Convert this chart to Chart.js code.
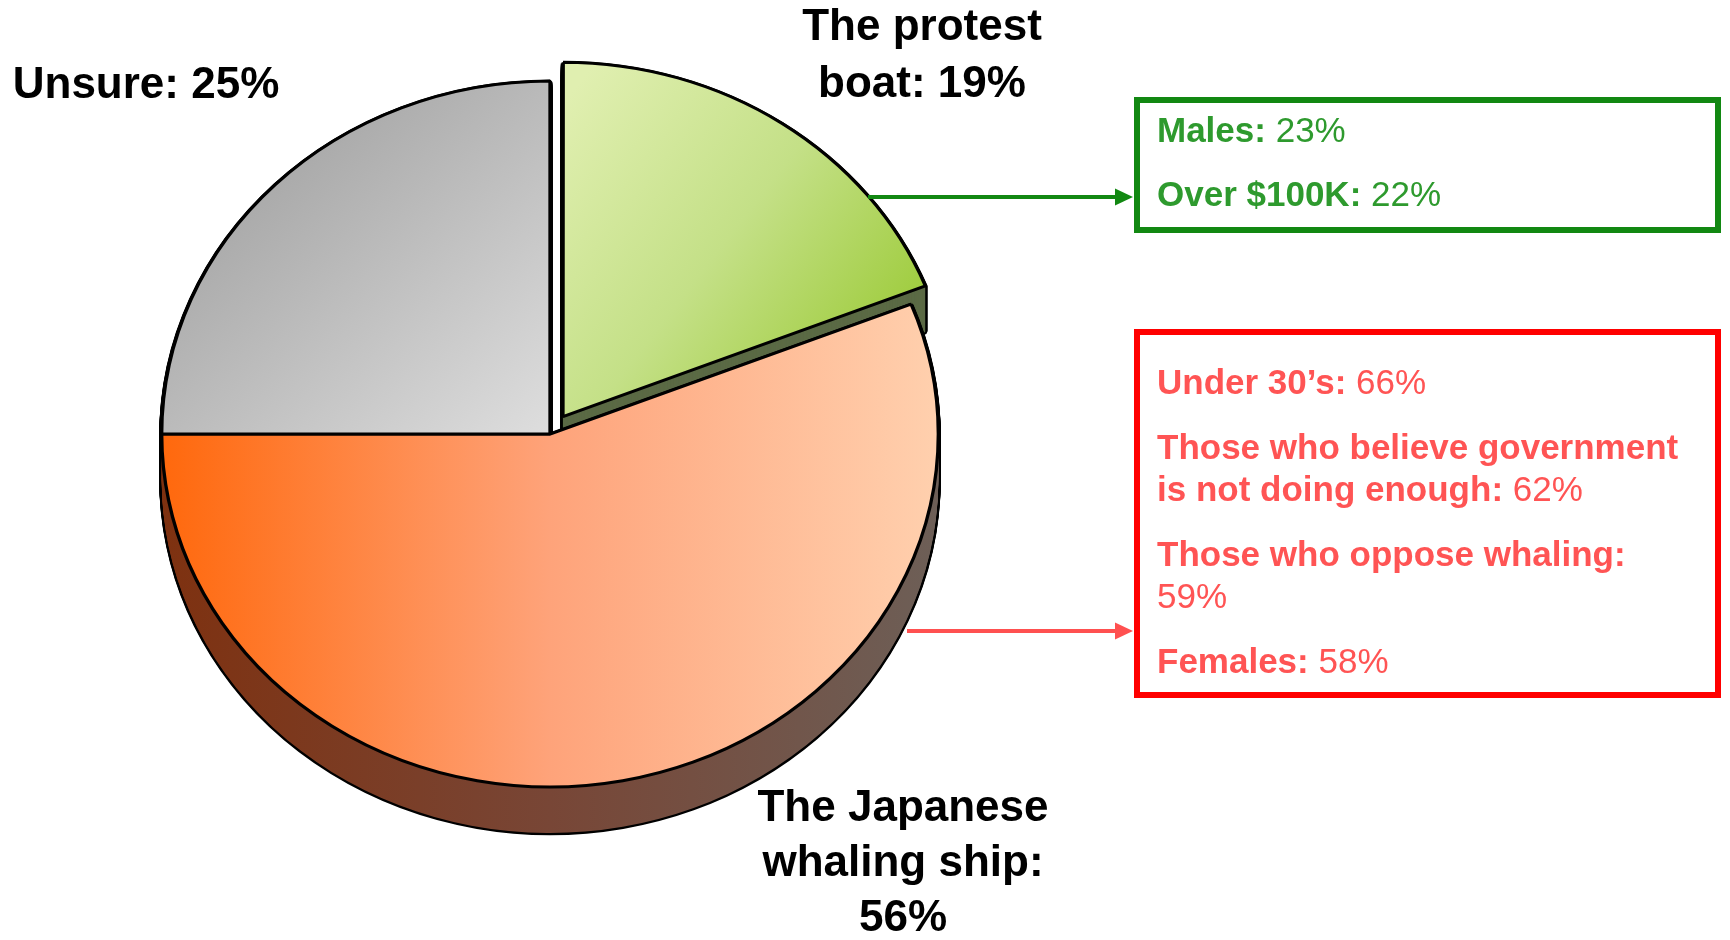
<!DOCTYPE html>
<html>
<head>
<meta charset="utf-8">
<script src="https://cdn.jsdelivr.net/npm/chart.js@4/dist/chart.umd.min.js"></script>
<style>
html,body{margin:0;padding:0;background:#fff;}
#wrap{position:relative;width:1730px;height:940px;overflow:hidden;font-family:"Liberation Sans",Arial,Helvetica,sans-serif;}
#wrap canvas{position:absolute;left:0;top:0;}
.box{position:absolute;box-sizing:border-box;border:6px solid;}
.box p{margin:0;font-size:35px;line-height:42px;font-weight:normal;}
.box p b{font-weight:bold;}
#boxGreen{left:1134px;top:97px;width:587px;height:136px;border-color:#128812;color:#2e9a2e;padding:6px 0 0 17px;}
#boxGreen p + p{margin-top:22px;}
#boxRed{left:1134px;top:329px;width:587px;height:369px;border-color:#ff0000;color:#ff5454;padding:26px 0 0 17px;}
#boxRed p{width:536px;}
#boxRed p + p{margin-top:23px;}
</style>
</head>
<body>
<div id="wrap">
  <div style="position:absolute;left:0;top:0;width:1730px;height:940px;"><canvas id="c"></canvas></div>
  <div class="box" id="boxGreen"></div>
  <div class="box" id="boxRed"></div>
</div>
<script>
// ---------------- data ----------------
const categories = ['The protest boat', 'The Japanese whaling ship', 'Unsure'];
const shares = [19, 56, 25];
const sliceLabelLines = [
  ['The protest', 'boat: {v}%'],
  ['The Japanese', 'whaling ship:', '{v}%'],
  ['Unsure: {v}%']
];
const protestGroups = ['Males:', 'Over $100K:'];
const protestValues = [23, 22];
const whalingGroups = ['Under 30\u2019s:', 'Those who believe government is not doing enough:', 'Those who oppose whaling:', 'Females:'];
const whalingValues = [66, 62, 59, 58];

// ---------------- annotation boxes ----------------
function fillBox(id, groups, values) {
  const box = document.getElementById(id);
  groups.forEach((g, i) => {
    const p = document.createElement('p');
    const b = document.createElement('b');
    b.textContent = g;
    p.appendChild(b);
    p.appendChild(document.createTextNode(' ' + values[i] + '%'));
    box.appendChild(p);
  });
}
fillBox('boxGreen', protestGroups, protestValues);
fillBox('boxRed', whalingGroups, whalingValues);

// ---------------- styling helpers ----------------
const SX = 1.1;      // horizontal stretch of the pie (ellipse)
const DEPTH = 46;    // 3D thickness
function px(chart, x) { // screen x -> pre-stretch x
  const a = chart.chartArea; const cx = (a.left + a.right) / 2;
  return cx + (x - cx) / SX;
}
function faceColor(c) {
  const chart = c.chart, ctx = chart.ctx, i = c.dataIndex;
  if (!chart.chartArea) return '#ccc';
  let g;
  if (i === 0) {
    g = ctx.createLinearGradient(px(chart, 570), 95, px(chart, 930), 325);
    g.addColorStop(0, '#e0efb0'); g.addColorStop(0.5, '#c4e087'); g.addColorStop(1, '#9bca36');
  } else if (i === 1) {
    g = ctx.createLinearGradient(px(chart, 160), 0, px(chart, 940), 0);
    g.addColorStop(0, '#ff680c'); g.addColorStop(0.5, '#fea37a'); g.addColorStop(1, '#ffd0ae');
  } else {
    g = ctx.createLinearGradient(px(chart, 270), 170, px(chart, 545), 430);
    g.addColorStop(0, '#a9a9a9'); g.addColorStop(1, '#dddddd');
  }
  return g;
}
function sideColor(chart, i) {
  const ctx = chart.ctx;
  if (i === 0) return '#5b6a45';
  if (i === 1) {
    const g = ctx.createLinearGradient(px(chart, 160), 0, px(chart, 940), 0);
    g.addColorStop(0, '#7e3110'); g.addColorStop(0.5, '#784636'); g.addColorStop(1, '#6d5f57');
    return g;
  }
  return '#8a8a8a';
}
function drawArcWith(el, ctx, opts) {
  const f = Object.create(el);
  f.options = Object.assign({}, el.options, opts);
  f.draw(ctx);
}

const pie3d = {
  id: 'pie3d',
  beforeDatasetsDraw(chart) {
    const ctx = chart.ctx;
    const meta = chart.getDatasetMeta(0);
    const cx = meta.data[0].x, cy = meta.data[0].y;
    ctx.save();
    ctx.translate(cx, cy); ctx.scale(SX, 1); ctx.translate(-cx, -cy);
    [2, 0, 1].forEach(i => {
      const el = meta.data[i];
      const side = sideColor(chart, i);
      for (let k = DEPTH; k >= 1; k--) {
        ctx.save(); ctx.translate(0, k);
        drawArcWith(el, ctx, {backgroundColor: side, borderColor: '#000', borderWidth: 4.5});
        ctx.restore();
      }
      for (let k = DEPTH; k >= 1; k--) {
        ctx.save(); ctx.translate(0, k);
        drawArcWith(el, ctx, {backgroundColor: side, borderWidth: 0});
        ctx.restore();
      }
    });
  },
  afterDatasetsDraw(chart) {
    chart.ctx.restore();
  },
  afterDraw(chart) {
    const ctx = chart.ctx;
    // arrows
    const arrow = (x0, x1, y, col) => {
      ctx.save();
      ctx.strokeStyle = col; ctx.fillStyle = col; ctx.lineWidth = 4;
      ctx.beginPath(); ctx.moveTo(x0, y); ctx.lineTo(x1 - 16, y); ctx.stroke();
      ctx.beginPath(); ctx.moveTo(x1, y); ctx.lineTo(x1 - 18, y - 8.5); ctx.lineTo(x1 - 18, y + 8.5); ctx.closePath(); ctx.fill();
      ctx.restore();
    };
    arrow(868, 1133, 197, '#128812');
    arrow(907, 1133, 631, '#ff5050');
    // slice labels
    const pos = [
      {x: 922, y: 28, dy: 57},
      {x: 903, y: 809, dy: 55},
      {x: 146, y: 86, dy: 55}
    ];
    ctx.save();
    ctx.fillStyle = '#000';
    ctx.font = 'bold 44px "Liberation Sans", Arial, sans-serif';
    ctx.textAlign = 'center';
    ctx.textBaseline = 'middle';
    sliceLabelLines.forEach((lines, i) => {
      lines.forEach((t, j) => {
        ctx.fillText(t.replace('{v}', shares[i]), pos[i].x, pos[i].y + j * pos[i].dy);
      });
    });
    ctx.restore();
  }
};

new Chart(document.getElementById('c'), {
  type: 'pie',
  data: {
    labels: categories,
    datasets: [{
      data: shares,
      backgroundColor: faceColor,
      borderColor: '#000',
      borderWidth: 3,
      offset: [84, 0, 0],
      hoverOffset: 0
    }]
  },
  options: {
    responsive: true,
    maintainAspectRatio: false,
    animation: false,
    events: [],
    radius: 353,
    rotation: 0,
    layout: {padding: {left: 0, top: 0, right: 630, bottom: 72}},
    plugins: {legend: {display: false}, tooltip: {enabled: false}, title: {display: false}}
  },
  plugins: [pie3d]
});
</script>
</body>
</html>
